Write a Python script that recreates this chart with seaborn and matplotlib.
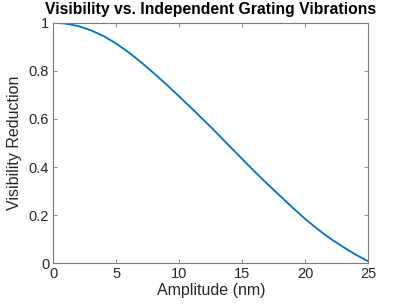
import matplotlib
matplotlib.use("Agg")
import matplotlib.pyplot as plt
import seaborn as sns
import pandas as pd

# Data
amplitude_nm = [0, 1, 2, 3, 4, 5, 6, 7, 8, 9, 10, 11, 12, 13, 14, 15, 16,
                17, 18, 19, 20, 21, 22, 23, 24, 25]
visibility_reduction = [1.000, 0.996, 0.986, 0.968, 0.944, 0.913, 0.876, 0.834,
                        0.789, 0.742, 0.693, 0.643, 0.592, 0.540, 0.486, 0.433,
                        0.380, 0.329, 0.280, 0.231, 0.184, 0.141, 0.102, 0.068,
                        0.036, 0.008]
x_ticks = [0, 5, 10, 15, 20, 25]
x_tick_labels = ["0", "5", "10", "15", "20", "25"]
y_ticks = [0, 0.2, 0.4, 0.6, 0.8, 1.0]
y_tick_labels = ["0", "0.2", "0.4", "0.6", "0.8", "1"]

df = pd.DataFrame({"Amplitude (nm)": amplitude_nm,
                   "Visibility Reduction": visibility_reduction})

sns.set_style("white")
plt.rcParams['font.family'] = ['Liberation Sans', 'DejaVu Sans']

fig = plt.figure(figsize=(4.07, 3.05), dpi=100)
ax = fig.add_axes([0.131, 0.1367, 0.774, 0.7889])

sns.lineplot(data=df, x="Amplitude (nm)", y="Visibility Reduction", ax=ax,
             color="#0072BD", linewidth=1.3)

ax.set_xlim(0, 25)
ax.set_ylim(0, 1)
ax.set_xticks(x_ticks)
ax.set_xticklabels(x_tick_labels)
ax.set_yticks(y_ticks)
ax.set_yticklabels(y_tick_labels)

axis_color = "#262626"
for side in ["left", "right", "top", "bottom"]:
    ax.spines[side].set_visible(True)
    ax.spines[side].set_color("#7a7a7a")
    ax.spines[side].set_linewidth(0.8)

ax.tick_params(axis="both", direction="in", length=3, width=0.6,
               color="#7a7a7a", labelsize=10.5, labelcolor=axis_color,
               top=True, right=True, bottom=True, left=True, pad=3)

ax.set_xlabel("Amplitude (nm)", fontsize=11.5, color=axis_color, labelpad=1)
ax.set_ylabel("Visibility Reduction", fontsize=11.5, color=axis_color, labelpad=5)
ax.set_title("Visibility vs. Independent Grating Vibrations", fontsize=11.3,
             fontweight="bold", color="black", pad=6)

fig.savefig("out.png", dpi=100)
